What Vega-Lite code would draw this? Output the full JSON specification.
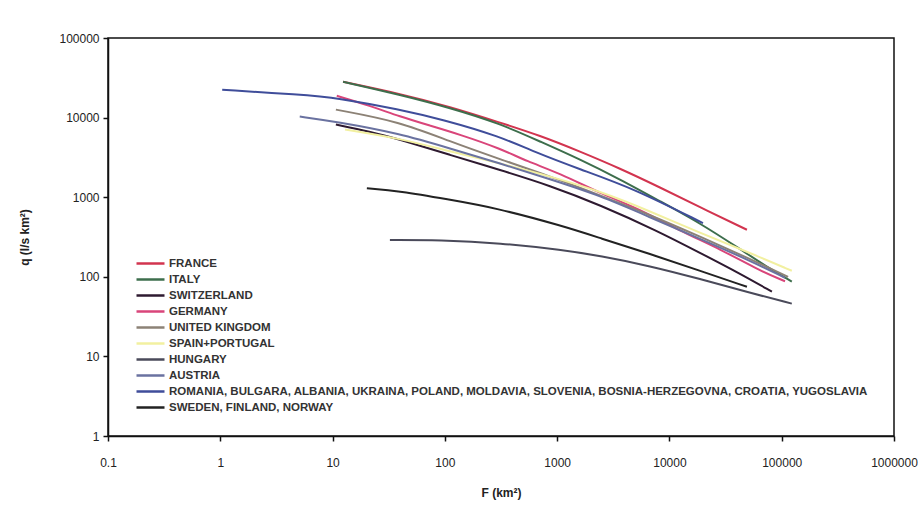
{
  "$schema": "https://vega.github.io/schema/vega-lite/v6.json",
  "width": 786,
  "height": 398,
  "autosize": {"type": "none"},
  "padding": {"left": 108, "top": 38, "right": 24, "bottom": 77},
  "background": "white",
  "config": {
    "font": "Liberation Sans",
    "view": {"stroke": "#111", "strokeWidth": 1.5},
    "axis": {"grid": false, "domainColor": "#111", "domainWidth": 1.5, "tickColor": "#111", "tickWidth": 1.5, "tickSize": 5, "labelColor": "#222", "labelFontSize": 12, "titleColor": "#222", "titleFontSize": 12, "titleFontWeight": "bold"}
  },
  "data": {"values": [
    {"c": "FRANCE", "F": 12.4, "q": 28200},
    {"c": "FRANCE", "F": 39.8, "q": 19950},
    {"c": "FRANCE", "F": 111, "q": 13700},
    {"c": "FRANCE", "F": 310, "q": 8660},
    {"c": "FRANCE", "F": 703, "q": 5960},
    {"c": "FRANCE", "F": 1596, "q": 3760},
    {"c": "FRANCE", "F": 3623, "q": 2300},
    {"c": "FRANCE", "F": 8228, "q": 1330},
    {"c": "FRANCE", "F": 18700, "q": 750},
    {"c": "FRANCE", "F": 49000, "q": 390},
    {"c": "ITALY", "F": 12.4, "q": 28200},
    {"c": "ITALY", "F": 39.8, "q": 19400},
    {"c": "ITALY", "F": 111, "q": 13300},
    {"c": "ITALY", "F": 310, "q": 8410},
    {"c": "ITALY", "F": 703, "q": 5010},
    {"c": "ITALY", "F": 1596, "q": 2990},
    {"c": "ITALY", "F": 3623, "q": 1680},
    {"c": "ITALY", "F": 8228, "q": 891},
    {"c": "ITALY", "F": 18700, "q": 473},
    {"c": "ITALY", "F": 42400, "q": 224},
    {"c": "ITALY", "F": 78500, "q": 126},
    {"c": "ITALY", "F": 123000, "q": 87},
    {"c": "SWITZERLAND", "F": 10.7, "q": 8180},
    {"c": "SWITZERLAND", "F": 21.5, "q": 6680},
    {"c": "SWITZERLAND", "F": 39.8, "q": 5310},
    {"c": "SWITZERLAND", "F": 111, "q": 3400},
    {"c": "SWITZERLAND", "F": 310, "q": 2200},
    {"c": "SWITZERLAND", "F": 863, "q": 1400},
    {"c": "SWITZERLAND", "F": 2404, "q": 800},
    {"c": "SWITZERLAND", "F": 7743, "q": 380},
    {"c": "SWITZERLAND", "F": 18700, "q": 200},
    {"c": "SWITZERLAND", "F": 42400, "q": 110},
    {"c": "SWITZERLAND", "F": 81800, "q": 65},
    {"c": "GERMANY", "F": 10.9, "q": 18800},
    {"c": "GERMANY", "F": 21.5, "q": 14100},
    {"c": "GERMANY", "F": 39.8, "q": 10300},
    {"c": "GERMANY", "F": 73.6, "q": 7940},
    {"c": "GERMANY", "F": 136, "q": 6130},
    {"c": "GERMANY", "F": 310, "q": 4100},
    {"c": "GERMANY", "F": 538, "q": 2820},
    {"c": "GERMANY", "F": 1059, "q": 1995},
    {"c": "GERMANY", "F": 2404, "q": 1120},
    {"c": "GERMANY", "F": 5461, "q": 708},
    {"c": "GERMANY", "F": 12400, "q": 376},
    {"c": "GERMANY", "F": 28200, "q": 224},
    {"c": "GERMANY", "F": 64000, "q": 119},
    {"c": "GERMANY", "F": 107000, "q": 88},
    {"c": "UNITED KINGDOM", "F": 10.7, "q": 12600},
    {"c": "UNITED KINGDOM", "F": 39.8, "q": 8900},
    {"c": "UNITED KINGDOM", "F": 111, "q": 5000},
    {"c": "UNITED KINGDOM", "F": 310, "q": 3000},
    {"c": "UNITED KINGDOM", "F": 863, "q": 1830},
    {"c": "UNITED KINGDOM", "F": 2404, "q": 1060},
    {"c": "UNITED KINGDOM", "F": 6702, "q": 600},
    {"c": "UNITED KINGDOM", "F": 18700, "q": 320},
    {"c": "UNITED KINGDOM", "F": 52100, "q": 168},
    {"c": "UNITED KINGDOM", "F": 114000, "q": 100},
    {"c": "SPAIN+PORTUGAL", "F": 12.9, "q": 7080},
    {"c": "SPAIN+PORTUGAL", "F": 39.8, "q": 5470},
    {"c": "SPAIN+PORTUGAL", "F": 111, "q": 3760},
    {"c": "SPAIN+PORTUGAL", "F": 310, "q": 2660},
    {"c": "SPAIN+PORTUGAL", "F": 863, "q": 1830},
    {"c": "SPAIN+PORTUGAL", "F": 2404, "q": 1190},
    {"c": "SPAIN+PORTUGAL", "F": 6702, "q": 668},
    {"c": "SPAIN+PORTUGAL", "F": 18700, "q": 355},
    {"c": "SPAIN+PORTUGAL", "F": 52100, "q": 200},
    {"c": "SPAIN+PORTUGAL", "F": 123000, "q": 119},
    {"c": "HUNGARY", "F": 32.4, "q": 290},
    {"c": "HUNGARY", "F": 90.4, "q": 290},
    {"c": "HUNGARY", "F": 310, "q": 266},
    {"c": "HUNGARY", "F": 1127, "q": 217},
    {"c": "HUNGARY", "F": 2404, "q": 183},
    {"c": "HUNGARY", "F": 6702, "q": 137},
    {"c": "HUNGARY", "F": 18700, "q": 94},
    {"c": "HUNGARY", "F": 52100, "q": 63},
    {"c": "HUNGARY", "F": 123000, "q": 46},
    {"c": "AUSTRIA", "F": 5.1, "q": 10300},
    {"c": "AUSTRIA", "F": 10.7, "q": 8910},
    {"c": "AUSTRIA", "F": 39.8, "q": 6310},
    {"c": "AUSTRIA", "F": 111, "q": 4100},
    {"c": "AUSTRIA", "F": 310, "q": 2660},
    {"c": "AUSTRIA", "F": 863, "q": 1680},
    {"c": "AUSTRIA", "F": 2404, "q": 1050},
    {"c": "AUSTRIA", "F": 6702, "q": 560},
    {"c": "AUSTRIA", "F": 18700, "q": 300},
    {"c": "AUSTRIA", "F": 52100, "q": 160},
    {"c": "AUSTRIA", "F": 107000, "q": 97},
    {"c": "ROMANIA,  BULGARA,  ALBANIA,  UKRAINA,  POLAND,  MOLDAVIA,  SLOVENIA,  BOSNIA-HERZEGOVNA,  CROATIA,  YUGOSLAVIA", "F": 1.04, "q": 22400},
    {"c": "ROMANIA,  BULGARA,  ALBANIA,  UKRAINA,  POLAND,  MOLDAVIA,  SLOVENIA,  BOSNIA-HERZEGOVNA,  CROATIA,  YUGOSLAVIA", "F": 5.1, "q": 19400},
    {"c": "ROMANIA,  BULGARA,  ALBANIA,  UKRAINA,  POLAND,  MOLDAVIA,  SLOVENIA,  BOSNIA-HERZEGOVNA,  CROATIA,  YUGOSLAVIA", "F": 10.9, "q": 17800},
    {"c": "ROMANIA,  BULGARA,  ALBANIA,  UKRAINA,  POLAND,  MOLDAVIA,  SLOVENIA,  BOSNIA-HERZEGOVNA,  CROATIA,  YUGOSLAVIA", "F": 39.8, "q": 12600},
    {"c": "ROMANIA,  BULGARA,  ALBANIA,  UKRAINA,  POLAND,  MOLDAVIA,  SLOVENIA,  BOSNIA-HERZEGOVNA,  CROATIA,  YUGOSLAVIA", "F": 96, "q": 9440},
    {"c": "ROMANIA,  BULGARA,  ALBANIA,  UKRAINA,  POLAND,  MOLDAVIA,  SLOVENIA,  BOSNIA-HERZEGOVNA,  CROATIA,  YUGOSLAVIA", "F": 310, "q": 5790},
    {"c": "ROMANIA,  BULGARA,  ALBANIA,  UKRAINA,  POLAND,  MOLDAVIA,  SLOVENIA,  BOSNIA-HERZEGOVNA,  CROATIA,  YUGOSLAVIA", "F": 609, "q": 3760},
    {"c": "ROMANIA,  BULGARA,  ALBANIA,  UKRAINA,  POLAND,  MOLDAVIA,  SLOVENIA,  BOSNIA-HERZEGOVNA,  CROATIA,  YUGOSLAVIA", "F": 1596, "q": 2240},
    {"c": "ROMANIA,  BULGARA,  ALBANIA,  UKRAINA,  POLAND,  MOLDAVIA,  SLOVENIA,  BOSNIA-HERZEGOVNA,  CROATIA,  YUGOSLAVIA", "F": 4732, "q": 1300},
    {"c": "ROMANIA,  BULGARA,  ALBANIA,  UKRAINA,  POLAND,  MOLDAVIA,  SLOVENIA,  BOSNIA-HERZEGOVNA,  CROATIA,  YUGOSLAVIA", "F": 19900, "q": 473},
    {"c": "SWEDEN, FINLAND, NORWAY", "F": 20.2, "q": 1300},
    {"c": "SWEDEN, FINLAND, NORWAY", "F": 39.8, "q": 1190},
    {"c": "SWEDEN, FINLAND, NORWAY", "F": 104, "q": 944},
    {"c": "SWEDEN, FINLAND, NORWAY", "F": 291, "q": 729},
    {"c": "SWEDEN, FINLAND, NORWAY", "F": 1127, "q": 434},
    {"c": "SWEDEN, FINLAND, NORWAY", "F": 2404, "q": 307},
    {"c": "SWEDEN, FINLAND, NORWAY", "F": 6702, "q": 194},
    {"c": "SWEDEN, FINLAND, NORWAY", "F": 18700, "q": 119},
    {"c": "SWEDEN, FINLAND, NORWAY", "F": 49000, "q": 75}
  ]},
  "mark": {"type": "line", "strokeWidth": 2, "interpolate": "basis"},
  "encoding": {
    "x": {"field": "F", "type": "quantitative",
      "scale": {"type": "log", "domain": [0.1, 1000000], "nice": false},
      "axis": {"values": [0.1, 1, 10, 100, 1000, 10000, 100000, 1000000], "format": "~f", "title": "F (km²)", "labelPadding": 16, "titlePadding": 19, "labelFlush": false, "labelOverlap": false}},
    "y": {"field": "q", "type": "quantitative",
      "scale": {"type": "log", "domain": [1, 100000], "nice": false},
      "axis": {"values": [1, 10, 100, 1000, 10000, 100000], "format": "d", "title": "q (l/s km²)", "labelPadding": 4, "titlePadding": 27, "labelFlush": false, "labelOverlap": false}},
    "color": {"field": "c", "type": "nominal",
      "scale": {
        "domain": ["FRANCE", "ITALY", "SWITZERLAND", "GERMANY", "UNITED KINGDOM", "SPAIN+PORTUGAL", "HUNGARY", "AUSTRIA", "ROMANIA,  BULGARA,  ALBANIA,  UKRAINA,  POLAND,  MOLDAVIA,  SLOVENIA,  BOSNIA-HERZEGOVNA,  CROATIA,  YUGOSLAVIA", "SWEDEN, FINLAND, NORWAY"],
        "range": ["#d2344f", "#3d6e4c", "#2e1a30", "#d9457a", "#8c8276", "#f2f0a0", "#4a4a5a", "#6a72a0", "#3f4d9a", "#222222"]},
      "legend": {"orient": "none", "legendX": 33, "legendY": 216, "title": null, "symbolType": "M-1.75,0H1.75", "symbolSize": 256, "symbolStrokeWidth": 2.5, "labelFontSize": 11.5, "labelFontWeight": "bold", "labelColor": "#333", "labelLimit": 0, "labelOffset": 9, "rowPadding": 1}
    }
  }
}
